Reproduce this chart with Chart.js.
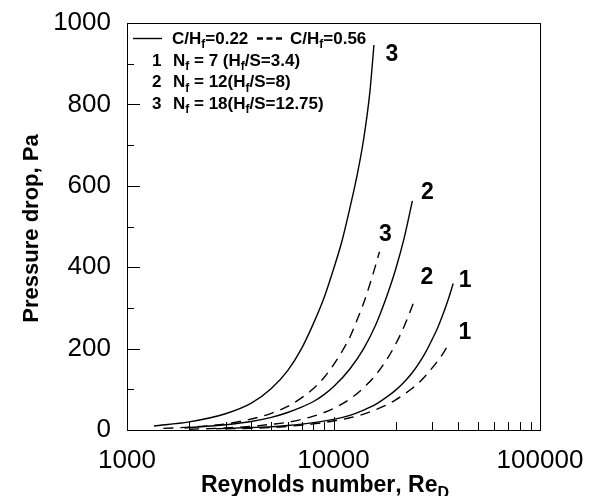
<!DOCTYPE html>
<html>
<head>
<meta charset="utf-8">
<script src="https://cdn.jsdelivr.net/npm/chart.js@4/dist/chart.umd.min.js"></script>
<style>
  html, body { margin: 0; padding: 0; background: #fff; }
  canvas { display: block; }
</style>
</head>
<body>
<canvas id="c" width="596" height="496"></canvas>
<script>
// ---------- data ----------
// Solid lines: C/Hf = 0.22 ; dashed lines: C/Hf = 0.56
const reS3 = [1350, 2000, 3000, 4000, 5000, 6000, 7000, 8000, 9000, 10000, 11000, 12000, 13000, 14000, 15000, 15700];
const pS3  = [10, 20, 40, 66, 102, 146, 200, 262, 325, 395, 465, 545, 625, 715, 830, 946];

const reS2 = [1900, 3000, 4000, 5000, 6000, 7000, 8000, 9000, 10000, 12000, 14000, 16000, 18000, 20000, 22000, 24100];
const pS2  = [5, 13, 21, 31, 43, 56, 70, 87, 106, 150, 200, 258, 325, 395, 472, 563];

const reS1 = [2700, 4000, 5000, 6000, 8000, 10000, 12000, 14000, 16000, 18000, 20000, 22000, 24000, 26000, 28000, 30000, 32000, 34000, 36000, 38000];
const pS1  = [3, 6, 8, 11, 18, 26, 36, 49, 63, 80, 98, 118, 140, 165, 192, 222, 252, 286, 322, 360];

const reD3 = [1500, 2000, 3000, 4000, 5000, 6000, 7000, 8000, 9000, 10000, 11000, 12000, 13000, 14000, 15000, 16000, 16700];
const pD3  = [4, 7, 15, 27, 41, 58, 79, 102, 129, 160, 193, 228, 270, 312, 358, 405, 438];

const reD2 = [2000, 3000, 4000, 5000, 6000, 7000, 8000, 9000, 10000, 12000, 14000, 16000, 18000, 20000, 22000, 24000, 24800];
const pD2  = [2, 5, 9, 14, 19, 26, 34, 43, 53, 76, 104, 135, 171, 211, 255, 303, 324];

const reD1 = [3000, 4000, 5000, 6000, 8000, 10000, 12000, 14000, 16000, 18000, 20000, 22000, 24000, 26000, 28000, 30000, 32000, 34000, 36600];
const pD1  = [3, 4, 6, 9, 15, 22, 30, 39, 50, 61, 74, 88, 102, 117, 134, 152, 170, 189, 217];

const curveLabels = ['3', '2', '1', '3', '2', '1'];

const xTickLabels = [1000, 10000, 100000];
const xMinorTicks = [2000, 3000, 4000, 5000, 6000, 7000, 8000, 9000, 20000, 30000, 40000, 50000, 60000, 70000, 80000, 90000];
const yTickLabels = [0, 200, 400, 600, 800, 1000];
const yMinorTicks = [100, 300, 500, 700, 900];

const legendHeader = ['C/H_f=0.22', 'C/H_f=0.56'];
const legendRows = [
  ['1', 'N_f = 7 (H_f/S=3.4)'],
  ['2', 'N_f = 12(H_f/S=8)'],
  ['3', 'N_f = 18(H_f/S=12.75)']
];
const xTitle = 'Reynolds number, Re_D';
const yTitle = 'Pressure drop, Pa';

// ---------- helpers ----------
const FAM = '"Liberation Sans", Arial, Helvetica, sans-serif';
function pts(xs, ys) { return xs.map((x, i) => ({ x: x, y: ys[i] })); }

function richWidth(ctx, str, size) {
  let w = 0;
  for (let i = 0; i < str.length; i++) {
    let ch = str[i], sub = false;
    if (ch === '_') { sub = true; i++; ch = str[i]; }
    ctx.font = 'bold ' + (sub ? Math.round(size * 0.7) : size) + 'px ' + FAM;
    w += ctx.measureText(ch).width;
  }
  return w;
}
function drawRich(ctx, str, x, y, size) {
  let cx = x;
  for (let i = 0; i < str.length; i++) {
    let ch = str[i], sub = false;
    if (ch === '_') { sub = true; i++; ch = str[i]; }
    ctx.font = 'bold ' + (sub ? Math.round(size * 0.7) : size) + 'px ' + FAM;
    ctx.fillText(ch, cx, sub ? y + size * 0.25 : y);
    cx += ctx.measureText(ch).width;
  }
  return cx;
}

// label offsets (px) from each curve's last point
const labelOffsets = [[18, 10], [15, -8], [12, -3], [6, -17], [12, -20], [15, -9]];

const decorPlugin = {
  id: 'decor',
  afterDraw(chart) {
    const ctx = chart.ctx;
    const a = chart.chartArea;
    const xs = chart.scales.x, ys = chart.scales.y;
    ctx.save();
    ctx.strokeStyle = '#000';
    ctx.fillStyle = '#000';
    ctx.lineWidth = 1;
    // frame
    ctx.strokeRect(a.left + 0.5, a.top + 0.5, a.right - a.left, a.bottom - a.top);
    // inward ticks
    ctx.beginPath();
    yTickLabels.forEach(v => { const y = Math.round(ys.getPixelForValue(v)) + 0.5; ctx.moveTo(a.left, y); ctx.lineTo(a.left + 13, y); });
    yMinorTicks.forEach(v => { const y = Math.round(ys.getPixelForValue(v)) + 0.5; ctx.moveTo(a.left, y); ctx.lineTo(a.left + 7, y); });
    xTickLabels.forEach(v => { const x = Math.round(xs.getPixelForValue(v)) + 0.5; ctx.moveTo(x, a.bottom); ctx.lineTo(x, a.bottom - 13); });
    xMinorTicks.forEach(v => { const x = Math.round(xs.getPixelForValue(v)) + 0.5; ctx.moveTo(x, a.bottom); ctx.lineTo(x, a.bottom - 8); });
    ctx.stroke();

    // curve labels
    ctx.textAlign = 'center';
    ctx.textBaseline = 'middle';
    ctx.font = 'bold 23px ' + FAM;
    chart.data.datasets.forEach((ds, i) => {
      const meta = chart.getDatasetMeta(i);
      const last = meta.data[meta.data.length - 1];
      ctx.fillText(curveLabels[i], last.x + labelOffsets[i][0], last.y + labelOffsets[i][1]);
    });

    // legend inside the plot
    ctx.textAlign = 'left';
    ctx.textBaseline = 'alphabetic';
    const L = a.left, T = a.top;
    ctx.lineWidth = 1.4;
    ctx.beginPath(); ctx.moveTo(L + 6, T + 15.5); ctx.lineTo(L + 35, T + 15.5); ctx.stroke();
    drawRich(ctx, legendHeader[0], L + 45, T + 21, 17);
    ctx.save();
    ctx.lineWidth = 2.6; ctx.setLineDash([6, 3.5]);
    ctx.beginPath(); ctx.moveTo(L + 130, T + 15.5); ctx.lineTo(L + 157, T + 15.5); ctx.stroke();
    ctx.restore();
    drawRich(ctx, legendHeader[1], L + 163, T + 21, 17);
    legendRows.forEach((r, k) => {
      const yb = T + 43 + k * 21.3;
      drawRich(ctx, r[0], L + 25, yb, 17);
      drawRich(ctx, r[1], L + 46, yb, 17);
    });

    // axis titles
    const wx = richWidth(ctx, xTitle, 23);
    drawRich(ctx, xTitle, 325 - wx / 2, 492, 23);
    ctx.save();
    ctx.translate(38, (a.top + a.bottom) / 2 + 2);
    ctx.rotate(-Math.PI / 2);
    const wy = richWidth(ctx, yTitle, 22);
    drawRich(ctx, yTitle, -wy / 2, 0, 22);
    ctx.restore();
    ctx.restore();
  }
};

function lineDs(xs, ys, dashed) {
  return {
    data: pts(xs, ys),
    borderColor: '#000',
    borderWidth: 1.4,
    borderDash: dashed ? [10, 7] : [],
    pointRadius: 0,
    fill: false,
    showLine: true,
    cubicInterpolationMode: 'monotone'
  };
}

new Chart(document.getElementById('c'), {
  type: 'scatter',
  data: {
    datasets: [
      lineDs(reS3, pS3, false),
      lineDs(reS2, pS2, false),
      lineDs(reS1, pS1, false),
      lineDs(reD3, pD3, true),
      lineDs(reD2, pD2, true),
      lineDs(reD1, pD1, true)
    ]
  },
  options: {
    responsive: false,
    animation: false,
    layout: { padding: { left: 0, right: 56, top: 23, bottom: 0 } },
    plugins: { legend: { display: false }, tooltip: { enabled: false } },
    scales: {
      x: {
        type: 'logarithmic',
        min: 1000, max: 100000,
        grid: { display: false, drawTicks: false },
        border: { display: true, color: '#000', width: 1 },
        afterBuildTicks: s => { s.ticks = xTickLabels.map(v => ({ value: v })); },
        afterFit: s => { s.height = 66; s.paddingLeft = 0; s.paddingRight = 0; },
        ticks: {
          autoSkip: false, maxRotation: 0, padding: 15, color: '#000',
          font: { size: 26, family: FAM },
          callback: v => String(v)
        }
      },
      y: {
        min: 0, max: 1000,
        grid: { display: false, drawTicks: false },
        border: { display: true, color: '#000', width: 1 },
        afterBuildTicks: s => { s.ticks = yTickLabels.map(v => ({ value: v })); },
        afterFit: s => { s.width = 127; s.paddingTop = 0; s.paddingBottom = 0; },
        ticks: {
          padding: 16, color: '#000',
          font: { size: 26, family: FAM },
          callback: v => String(v)
        }
      }
    }
  },
  plugins: [decorPlugin]
});
</script>
</body>
</html>
